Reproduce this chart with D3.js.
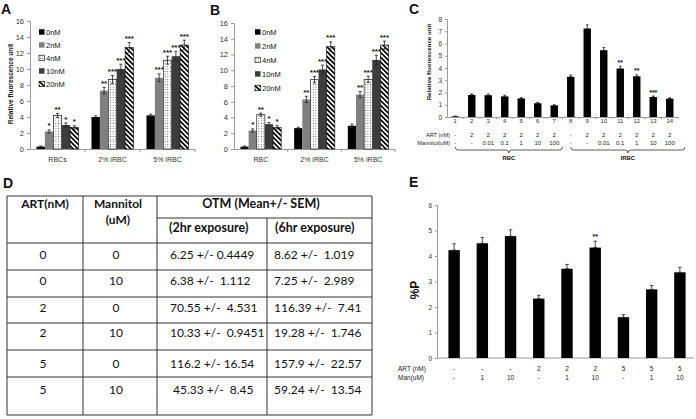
<!DOCTYPE html>
<html><head><meta charset="utf-8">
<script src="https://cdn.jsdelivr.net/npm/d3@7"></script>
<style>
body{margin:0;background:#fff}
svg{display:block}
text{font-family:"Liberation Sans",Arial,sans-serif}
.tbl{font-family:Lato,"Open Sans",sans-serif}
</style>
</head><body>
<svg id="c" width="696" height="419"></svg>
<script>
// ---------------- DATA ----------------
const seriesNames = ["0nM","2nM","4nM","10nM","20nM"];
const yTicksAB = [0,2,4,6,8,10,12,14,16];

// Panel A (rows = categories, columns = series)
const catsA = ["RBCs","2% iRBC","5% iRBC"];
const valsA = [[0.3,2.2,4.2,3.0,2.7],[4.0,7.3,8.7,10.0,12.7],[4.2,8.9,11.1,11.6,13.0]];
const errA  = [[0.08,0.2,0.25,0.25,0.2],[0.15,0.4,0.5,0.6,0.6],[0.15,0.5,0.5,0.6,0.6]];
const starsA = [["","*","**","*","*"],["","**","***","***","***"],["","***","***","***","***"]];

// Panel B
const catsB = ["RBC","2% iRBC","5% iRBC"];
const valsB = [[0.3,2.35,4.35,3.15,2.75],[2.65,6.3,8.8,10.1,13.0],[2.95,6.9,8.85,11.3,13.2]];
const errB  = [[0.08,0.2,0.2,0.2,0.2],[0.12,0.4,0.4,0.55,0.6],[0.2,0.4,0.4,0.6,0.5]];
const starsB = [["","*","**","*","*"],["","**","***","***","***"],["","**","***","***","***"]];

// Panel C
const catsC = ["1","2","3","4","5","6","7","8","9","10","11","12","13","14"];
const valsC = [0.05,1.8,1.78,1.68,1.52,1.12,0.95,3.28,7.22,5.45,3.95,3.32,1.63,1.5];
const errC  = [0.02,0.08,0.1,0.1,0.06,0.06,0.05,0.15,0.3,0.22,0.2,0.12,0.08,0.07];
const starsC = ["","","","","","","","","","","**","**","***",""];
const artC = ["-","2","2","2","2","2","2","-","2","2","2","2","2","2"];
const manC = ["-","-","0.01","0.1","1","10","100","-","-","0.01","0.1","1","10","100"];
const yTicksC = [0,1,2,3,4,5,6,7,8];

// Panel D (table)
const tblHead = ["ART(nM)","Mannitol","(uM)","OTM (Mean+/- SEM)","(2hr exposure)","(6hr exposure)"];
const tblART = ["0","0","2","2","5","5"];
const tblMan = ["0","10","0","10","0","10"];
const tbl2hr = ["6.25 +/- 0.4449","6.38 +/-  1.112","70.55 +/-  4.531","10.33 +/-  0.9451","116.2 +/- 16.54"," 45.33 +/-  8.45"];
const tbl6hr = ["8.62 +/-  1.019","7.25 +/-  2.989","116.39 +/-  7.41","19.28 +/-  1.746","157.9 +/-  22.57","59.24 +/-  13.54"];

// Panel E
const catsE = ["1","2","3","4","5","6","7","8","9"];
const valsE = [4.23,4.5,4.78,2.33,3.5,4.33,1.6,2.69,3.36];
const errE  = [0.25,0.23,0.25,0.13,0.17,0.25,0.1,0.15,0.2];
const starsE = ["","","","","","**","","",""];
const artE = ["-","-","-","2","2","2","5","5","5"];
const manE = ["-","1","10","-","1","10","-","1","10"];
const yTicksE = [0,1,2,3,4,5,6];

// ---------------- DRAW ----------------
const svg = d3.select("#c");
const defs = svg.append("defs");
const dots = defs.append("pattern").attr("id","dots").attr("width",2.6).attr("height",2.6).attr("patternUnits","userSpaceOnUse");
dots.append("rect").attr("width",2.6).attr("height",2.6).attr("fill","#fff");
dots.append("circle").attr("cx",1.3).attr("cy",1.3).attr("r",0.5).attr("fill","#333");
const stripes = defs.append("pattern").attr("id","stripes").attr("width",3.4).attr("height",3.4).attr("patternUnits","userSpaceOnUse").attr("patternTransform","rotate(-45)");
stripes.append("rect").attr("width",3.4).attr("height",3.4).attr("fill","#fff");
stripes.append("rect").attr("width",1.7).attr("height",3.4).attr("fill","#000");
const seriesFill = ["#000","#808080","url(#dots)","#3c3c3c","url(#stripes)"];
const seriesStroke = ["none","none","#000","none","#000"];
const intFmt = d3.format("d");

function styleAxis(sel, fs){
  sel.select(".domain").attr("stroke","#9a9a9a");
  sel.selectAll(".tick line").attr("stroke","#9a9a9a");
  sel.selectAll(".tick text").attr("fill","#333").style("font-size",fs+"px");
}

function letter(t,x,y){
  svg.append("text").attr("x",x).attr("y",y).text(t).style("font-size","14px").style("font-weight","bold").attr("fill","#111");
}

function errBar(g, cx, yv, ye1, ye2, cw){
  g.append("line").attr("x1",cx).attr("x2",cx).attr("y1",ye1).attr("y2",ye2).attr("stroke","#222").attr("stroke-width",0.8);
  g.append("line").attr("x1",cx-cw).attr("x2",cx+cw).attr("y1",ye1).attr("y2",ye1).attr("stroke","#222").attr("stroke-width",0.8);
  g.append("line").attr("x1",cx-cw).attr("x2",cx+cw).attr("y1",ye2).attr("y2",ye2).attr("stroke","#222").attr("stroke-width",0.8);
}

function grouped(o){
  const g = svg.append("g");
  const y = d3.scaleLinear().domain([0,16]).range([o.yb,o.yt]);
  const x = d3.scaleBand().domain(o.cats).range([o.xl,o.xr]);
  const xs = d3.scaleBand().domain(seriesNames).range([6.5, x.bandwidth()-6.5]);
  const ya = g.append("g").attr("transform",`translate(${o.xl},0)`)
    .call(d3.axisLeft(y).tickValues(yTicksAB).tickFormat(intFmt).tickSize(3).tickPadding(3));
  styleAxis(ya,7.5);
  const xa = g.append("g").attr("transform",`translate(0,${o.yb})`)
    .call(d3.axisBottom(x).tickSize(0).tickPadding(8));
  styleAxis(xa,7);
  o.cats.forEach((c,i)=>{
    if(i>0) g.append("line").attr("x1",x(c)).attr("x2",x(c)).attr("y1",o.yb).attr("y2",o.yb+3).attr("stroke","#9a9a9a");
  });
  g.append("line").attr("x1",o.xr).attr("x2",o.xr).attr("y1",o.yb).attr("y2",o.yb+3).attr("stroke","#9a9a9a");
  o.cats.forEach((c,ci)=>{
    seriesNames.forEach((s,si)=>{
      const v=o.vals[ci][si], e=o.err[ci][si];
      const bx = x(c)+xs(s), bw = xs.bandwidth();
      g.append("rect").attr("x",bx).attr("y",y(v)).attr("width",bw).attr("height",y(0)-y(v))
        .attr("fill",seriesFill[si]).attr("stroke",seriesStroke[si]).attr("stroke-width",0.6);
      errBar(g,bx+bw/2,y(v),y(v+e),y(Math.max(0,v-e)),1.6);
      if(o.stars[ci][si]) g.append("text").attr("x",bx+bw/2).attr("y",y(v+e)-1.5).attr("text-anchor","middle")
        .text(o.stars[ci][si]).style("font-size","8px").style("font-weight","bold").attr("fill","#111");
    });
  });
  // legend
  seriesNames.forEach((s,si)=>{
    const cy = o.legY[si];
    g.append("rect").attr("x",o.legX).attr("y",cy-2.8).attr("width",5.5).attr("height",5.5)
      .attr("fill",seriesFill[si]).attr("stroke",seriesStroke[si]==="none"?"none":"#000").attr("stroke-width",0.6);
    g.append("text").attr("x",o.legX+7).attr("y",cy+2.7).text(s).style("font-size","7.5px").attr("fill","#111");
  });
  if(o.ylab){
    g.append("text").attr("transform",`translate(${o.ylab[0]},${o.ylab[1]}) rotate(-90)`).attr("text-anchor","middle")
      .text("Relative fluorescence unit").style("font-size","6.5px").style("font-weight","bold").attr("fill","#111");
  }
}

letter("A",1,14);
grouped({cats:catsA, vals:valsA, err:errA, stars:starsA, xl:30, xr:195, yb:149, yt:21,
  legX:39, legY:[32,45,58,71,84], ylab:[13,84]});
letter("B",210,15);
grouped({cats:catsB, vals:valsB, err:errB, stars:starsB, xl:234, xr:395, yb:149, yt:23,
  legX:255, legY:[32,46,60,74,88]});

// ---------- Panel C ----------
letter("C",409,14);
(function(){
  const g = svg.append("g");
  const y = d3.scaleLinear().domain([0,8]).range([117,19]);
  const x = d3.scaleBand().domain(catsC).range([447,678]);
  const bw = x.bandwidth()*0.45;
  const ya = g.append("g").attr("transform","translate(447,0)").call(d3.axisLeft(y).tickValues(yTicksC).tickFormat(intFmt).tickSize(2).tickPadding(3));
  styleAxis(ya,6.5);
  const xa = g.append("g").attr("transform","translate(0,117)").call(d3.axisBottom(x).tickSize(0).tickPadding(2));
  styleAxis(xa,6);
  catsC.forEach(c=>{
    g.append("line").attr("x1",x(c)+x.bandwidth()).attr("x2",x(c)+x.bandwidth()).attr("y1",117).attr("y2",119).attr("stroke","#9a9a9a");
  });
  catsC.forEach((c,i)=>{
    const cx = x(c)+x.bandwidth()/2, v=valsC[i], e=errC[i];
    g.append("rect").attr("x",cx-bw/2).attr("y",y(v)).attr("width",bw).attr("height",y(0)-y(v)).attr("fill","#000");
    errBar(g,cx,y(v),y(v+e),y(v),1.4);
    if(starsC[i]) g.append("text").attr("x",cx).attr("y",y(v+e)-1.5).attr("text-anchor","middle").text(starsC[i])
      .style("font-size","7px").style("font-weight","bold").attr("fill","#111");
    g.append("text").attr("x",cx).attr("y",137).attr("text-anchor","middle").text(artC[i]).style("font-size","6px").attr("fill","#222");
    g.append("text").attr("x",cx).attr("y",144.5).attr("text-anchor","middle").text(manC[i]).style("font-size","6px").attr("fill","#222");
  });
  g.append("text").attr("x",450).attr("y",137).attr("text-anchor","end").text("ART (nM)").style("font-size","5.6px").attr("fill","#222");
  g.append("text").attr("x",450).attr("y",144.5).attr("text-anchor","end").text("Mannitol(uM)").style("font-size","5.6px").attr("fill","#222");
  g.append("text").attr("transform","translate(431,62) rotate(-90)").attr("text-anchor","middle")
    .text("Relative fluorescence unit").style("font-size","6.2px").style("font-weight","bold").attr("fill","#111");
  function brace(x0,x1,label){
    const m=(x0+x1)/2, t=147, b=150;
    g.append("path").attr("d",`M${x0},${t} Q${x0},${b} ${x0+3},${b} L${m-3},${b} Q${m},${b} ${m},${b+3} Q${m},${b} ${m+3},${b} L${x1-3},${b} Q${x1},${b} ${x1},${t}`)
      .attr("fill","none").attr("stroke","#333").attr("stroke-width",0.8);
    g.append("text").attr("x",m).attr("y",160).attr("text-anchor","middle").text(label)
      .style("font-size","6px").style("font-weight","bold").attr("fill","#111");
  }
  brace(x("1")+x.bandwidth()/2, x("7")+x.bandwidth(), "RBC");
  brace(x("8")+x.bandwidth()/2, x("14")+x.bandwidth()+7, "IRBC");
})();

// ---------- Panel D (table) ----------
letter("D",3,188);
(function(){
  const g = svg.append("g").attr("class","tbl");
  const L=7, c1=83, c2=157, c3=267, R=372, T=196, sub=218, B=415;
  const rows=[243,270,297,323,350,377];
  const ln=(x1,y1,x2,y2)=>g.append("line").attr("x1",x1).attr("y1",y1).attr("x2",x2).attr("y2",y2).attr("stroke","#333").attr("stroke-width",1);
  ln(L,T,R,T); ln(L,B,R,B); ln(L,T,L,B); ln(R,T,R,B); ln(c1,T,c1,B); ln(c2,T,c2,B); ln(c3,sub,c3,B);
  ln(c2,sub,R,sub);
  rows.forEach(r=>ln(L,r,R,r));
  const tx=(x,y,t,anchor,bold,fs)=>g.append("text").attr("x",x).attr("y",y).attr("text-anchor",anchor).text(t)
    .attr("class","tbl").style("font-size",fs+"px").style("font-weight",bold?"bold":"normal").style("white-space","pre").attr("fill","#111");
  tx(45,208,tblHead[0],"middle",true,12);
  tx(118,208,tblHead[1],"middle",true,12);
  tx(118,224,tblHead[2],"middle",true,12);
  tx(261,208,tblHead[3],"middle",true,12.5);
  tx(169,232,tblHead[4],"start",true,12.5);
  tx(275,232,tblHead[5],"start",true,12.5);
  const ty=[259,285,312,337,368,394];
  tblART.forEach((v,i)=>{
    tx(43,ty[i],v,"middle",false,12);
    tx(116,ty[i],tblMan[i],"middle",false,12);
    tx(170,ty[i],tbl2hr[i],"start",false,12);
    tx(274,ty[i],tbl6hr[i],"start",false,12);
  });
})();

// ---------- Panel E ----------
letter("E",409,187);
(function(){
  const g = svg.append("g");
  const y = d3.scaleLinear().domain([0,6]).range([358,205]);
  const x = d3.scaleBand().domain(catsE).range([440,694]);
  const bw = 11.4;
  const ya = g.append("g").attr("transform","translate(437,0)").call(d3.axisLeft(y).tickValues(yTicksE).tickFormat(intFmt).tickSize(2).tickPadding(3));
  styleAxis(ya,6.5);
  g.append("line").attr("x1",437).attr("x2",694).attr("y1",358).attr("y2",358).attr("stroke","#9a9a9a");
  catsE.forEach((c,i)=>{
    const cx = x(c)+x.bandwidth()/2, v=valsE[i], e=errE[i];
    g.append("rect").attr("x",cx-bw/2).attr("y",y(v)).attr("width",bw).attr("height",y(0)-y(v)).attr("fill","#000");
    errBar(g,cx,y(v),y(v+e),y(v),1.8);
    if(starsE[i]) g.append("text").attr("x",cx).attr("y",y(v+e)-2).attr("text-anchor","middle").text(starsE[i])
      .style("font-size","7px").style("font-weight","bold").attr("fill","#111");
    g.append("text").attr("x",cx).attr("y",371).attr("text-anchor","middle").text(artE[i]).style("font-size","6.5px").attr("fill","#222");
    g.append("text").attr("x",cx).attr("y",380).attr("text-anchor","middle").text(manE[i]).style("font-size","6.5px").attr("fill","#222");
  });
  g.append("text").attr("x",398).attr("y",371).text("ART (nM)").style("font-size","6.5px").attr("fill","#222");
  g.append("text").attr("x",398).attr("y",380).text("Man(uM)").style("font-size","6.5px").attr("fill","#222");
  g.append("text").attr("transform","translate(419,290) rotate(-90)").attr("text-anchor","middle").text("%P")
    .style("font-size","12px").style("font-weight","bold").attr("fill","#111");
})();
</script>
</body></html>
